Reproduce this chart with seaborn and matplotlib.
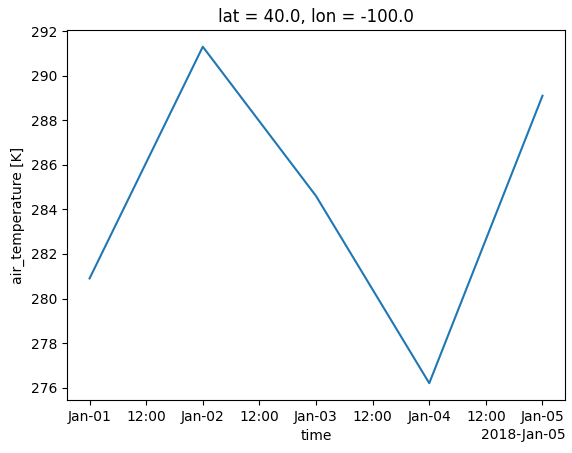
import pandas as pd
import matplotlib
matplotlib.use("Agg")
import matplotlib.pyplot as plt
import matplotlib.dates as mdates
import seaborn as sns

# --- data ---
times = pd.to_datetime(["2018-01-01", "2018-01-02", "2018-01-03", "2018-01-04", "2018-01-05"])
air_temp = [280.9, 291.3, 284.6, 276.2, 289.1]

df = pd.DataFrame({"time": times, "air_temperature [K]": air_temp})

fig, ax = plt.subplots(figsize=(5.72, 4.53), dpi=100)
sns.lineplot(data=df, x="time", y="air_temperature [K]", ax=ax, color="#1f77b4")

locator = mdates.HourLocator(byhour=[0, 12])
formatter = mdates.ConciseDateFormatter(
    locator,
    formats=["%Y", "%b", "%b-%d", "%H:%M", "%H:%M", "%S.%f"],
    zero_formats=["", "%Y", "%b", "%b-%d", "%H:%M", "%H:%M"],
    offset_formats=["", "%Y", "%Y-%b", "%Y-%b-%d", "%Y-%b-%d", "%Y-%b-%d %H:%M"],
)
ax.xaxis.set_major_locator(locator)
ax.xaxis.set_major_formatter(formatter)
ax.set_yticks(range(276, 293, 2))
ax.set_title("lat = 40.0, lon = -100.0")

# reference is tightly cropped: axes span most of the canvas
plt.subplots_adjust(left=0.117, right=0.988, bottom=0.117, top=0.934)
plt.savefig("out.png", dpi=100)
